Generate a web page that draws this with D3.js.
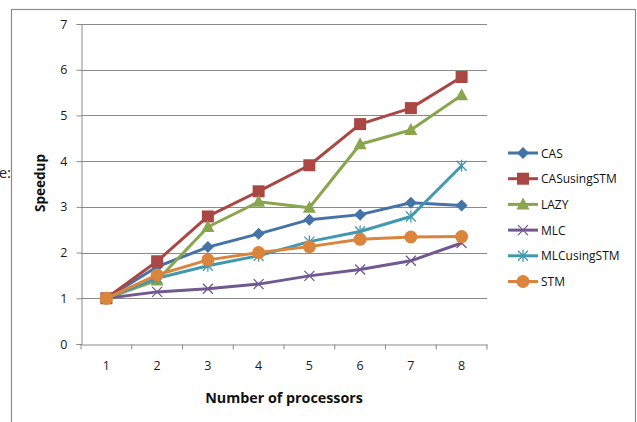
<!DOCTYPE html>
<html><head><meta charset="utf-8">
<script src="https://cdn.jsdelivr.net/npm/d3@7/dist/d3.min.js"></script>
<style>body{margin:0;background:#fff;} svg{display:block;font-family:"Open Sans","Noto Sans",sans-serif;}</style>
</head><body>
<svg id="c" width="637" height="422"></svg>
<script>
const categories = ["1","2","3","4","5","6","7","8"];
const seriesNames = ["CAS","CASusingSTM","LAZY","MLC","MLCusingSTM","STM"];
const CAS = [1.0, 1.69, 2.12, 2.41, 2.72, 2.83, 3.09, 3.03];
const CASusingSTM = [1.0, 1.81, 2.79, 3.34, 3.91, 4.81, 5.16, 5.84];
const LAZY = [1.0, 1.39, 2.56, 3.11, 2.98, 4.37, 4.68, 5.44];
const MLC = [1.0, 1.14, 1.21, 1.31, 1.49, 1.63, 1.82, 2.21];
const MLCusingSTM = [1.0, 1.44, 1.71, 1.93, 2.24, 2.46, 2.79, 3.90];
const STM = [1.0, 1.51, 1.84, 2.00, 2.13, 2.29, 2.34, 2.35];
const yTicks = [0,1,2,3,4,5,6,7];
const colors = ["#4572A7","#AA4643","#89A54E","#71588F","#4198AF","#DB843D"];
const markers = ["diamond","square","triangle","x","star","circle"];
const seriesValues = [CAS, CASusingSTM, LAZY, MLC, MLCusingSTM, STM];

const svg = d3.select("#c");
// outer frame
svg.append("rect").attr("x",11.5).attr("y",9.5).attr("width",624).attr("height",430)
  .attr("fill","none").attr("stroke","#8c8c8c").attr("stroke-width",1.2);
svg.append("text").attr("x",11).attr("y",178).attr("text-anchor","end")
  .attr("font-size",15).attr("fill","#222").text("e:");

const x = d3.scaleBand().domain(categories).range([81,487]);
const y = d3.scaleLinear().domain([0,7]).range([344,24]);

// gridlines
svg.append("g").selectAll("line").data(yTicks.slice(1)).join("line")
  .attr("x1",81).attr("x2",487).attr("y1",d=>Math.round(y(d))+0.5).attr("y2",d=>Math.round(y(d))+0.5)
  .attr("stroke","#8a8a8a").attr("stroke-width",1);

// y axis
const ya = svg.append("g").attr("transform","translate(81.5,0)")
  .call(d3.axisLeft(y).tickValues(yTicks).tickSize(5).tickPadding(9).tickFormat(d3.format("d")));
ya.select(".domain").attr("stroke","#8a8a8a");
ya.selectAll(".tick line").attr("stroke","#8a8a8a");
ya.selectAll(".tick text").attr("font-size",12.5).attr("fill","#1a1a1a").attr("font-family","Open Sans");

// x axis
const xa = svg.append("g").attr("transform","translate(0,344.5)")
  .call(d3.axisBottom(x).tickSize(0).tickPadding(17));
xa.select(".domain").attr("stroke","#8a8a8a");
xa.selectAll(".tick text").attr("font-size",12.5).attr("fill","#1a1a1a").attr("font-family","Open Sans");
xa.selectAll("line.sep").data(d3.range(categories.length+1)).join("line").attr("class","sep")
  .attr("x1",i=>81+i*x.step()).attr("x2",i=>81+i*x.step()).attr("y1",0).attr("y2",5)
  .attr("stroke","#8a8a8a");

// axis titles
svg.append("text").attr("x",284).attr("y",403).attr("text-anchor","middle")
  .attr("font-size",14.3).attr("font-weight","bold").attr("fill","#111").text("Number of processors");
svg.append("text").attr("transform","translate(45,183) rotate(-90)").attr("text-anchor","middle")
  .attr("font-size",13.5).attr("font-weight","bold").attr("fill","#111").text("Speedup");

function drawMarker(g, type, color, cx, cy, s){
  s = s||1;
  if(type==="diamond"){
    g.append("path").attr("d",`M${cx},${cy-6*s}L${cx+6*s},${cy}L${cx},${cy+6*s}L${cx-6*s},${cy}Z`).attr("fill",color);
  } else if(type==="square"){
    g.append("rect").attr("x",cx-6*s).attr("y",cy-6*s).attr("width",12*s).attr("height",12*s).attr("fill",color);
  } else if(type==="triangle"){
    g.append("path").attr("d",`M${cx},${cy-7*s}L${cx+6.5*s},${cy+5*s}L${cx-6.5*s},${cy+5*s}Z`).attr("fill",color);
  } else if(type==="x"){
    g.append("path").attr("d",`M${cx-5*s},${cy-5*s}L${cx+5*s},${cy+5*s}M${cx-5*s},${cy+5*s}L${cx+5*s},${cy-5*s}`)
      .attr("stroke",color).attr("stroke-width",1.3).attr("fill","none");
  } else if(type==="star"){
    g.append("path").attr("d",`M${cx-5*s},${cy-5*s}L${cx+5*s},${cy+5*s}M${cx-5*s},${cy+5*s}L${cx+5*s},${cy-5*s}M${cx},${cy-6*s}L${cx},${cy+6*s}`)
      .attr("stroke",color).attr("stroke-width",1.3).attr("fill","none");
  } else if(type==="circle"){
    g.append("circle").attr("cx",cx).attr("cy",cy).attr("r",6.5*s).attr("fill",color);
  }
}

const line = d3.line().x((d,i)=>x(categories[i])+x.bandwidth()/2).y(d=>y(d));
seriesValues.forEach((vals,k)=>{
  const g = svg.append("g");
  g.append("path").datum(vals).attr("d",line).attr("fill","none")
    .attr("stroke",colors[k]).attr("stroke-width",3).attr("stroke-linejoin","round");
  vals.forEach((v,i)=>drawMarker(g, markers[k], colors[k], x(categories[i])+x.bandwidth()/2, y(v)));
});

// legend
const lg = svg.append("g");
seriesNames.forEach((n,k)=>{
  const ly = 153 + k*25.7;
  lg.append("line").attr("x1",508).attr("x2",538).attr("y1",ly).attr("y2",ly)
    .attr("stroke",colors[k]).attr("stroke-width",3);
  drawMarker(lg, markers[k], colors[k], 523, ly, 1);
  lg.append("text").attr("x",541).attr("y",ly+4.5).attr("font-size",12).attr("fill","#111").text(n);
});
</script>
</body></html>
